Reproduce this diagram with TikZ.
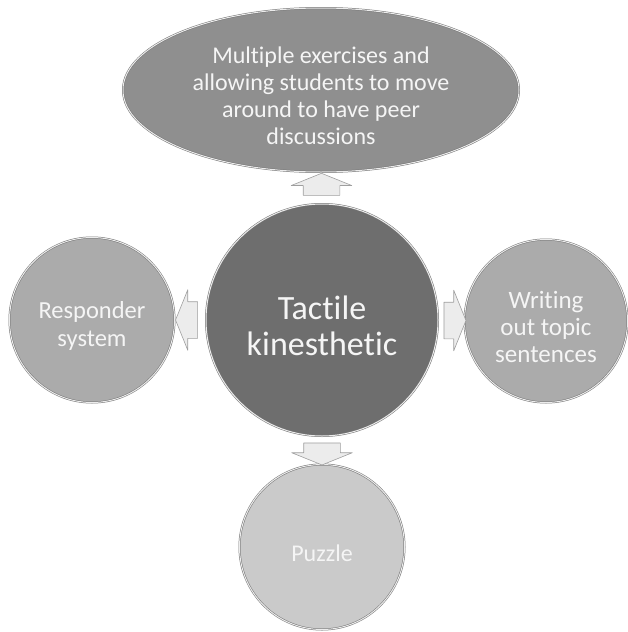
\documentclass[tikz,border=0pt]{standalone}
\usepackage{fontspec}
\setmainfont{Carlito}[Ligatures=NoCommon]
\usetikzlibrary{shapes.arrows,shapes.geometric,calc}
\definecolor{hubgray}{HTML}{6E6E6E}
\definecolor{topgray}{HTML}{8F8F8F}
\definecolor{sidegray}{HTML}{ABABAB}
\definecolor{lowgray}{HTML}{CACACA}
\tikzset{
  bubble/.style={circle, draw=black!55, line width=.5pt, double=white!85!gray,
    double distance=1pt, inner sep=0pt},
  caption/.style={align=center, text=white!92!gray, inner sep=0pt, yshift=-6pt},
  blockarrow/.style={single arrow, draw=gray!75, fill=gray!15, line width=.6pt,
    inner xsep=0pt, inner ysep=18pt, minimum height=22pt,
    single arrow head extend=12pt, single arrow tip angle=136}
}
\begin{document}
\begin{tikzpicture}[x=1pt, y=-1pt, line join=round]
	\useasboundingbox (0,0) rectangle (628,632);
	% hub and the four ideas
	\node[bubble, fill=hubgray, minimum size=232pt,
	  label={[name=hubtext, caption, font=\fontsize{34}{36}\selectfont]center:{Tactile\\kinesthetic}}] (hub) at (322,320) {};
	\node[bubble, ellipse, fill=topgray, minimum width=396pt, minimum height=164pt,
	  label={[name=peertext, caption, font=\fontsize{24}{27}\selectfont]center:{Multiple exercises and\\allowing students to move\\around to have peer\\discussions}}] (peer) at (321,90) {};
	\node[bubble, fill=sidegray, minimum size=165pt,
	  label={[name=resptext, caption, font=\fontsize{24.5}{28}\selectfont]center:{Responder\\system}}] (resp) at (92,320) {};
	\node[bubble, fill=sidegray, minimum size=163pt,
	  label={[name=topictext, caption, font=\fontsize{25}{27}\selectfont]center:{Writing\\out topic\\sentences}}] (topic) at (546,321) {};
	\node[bubble, fill=lowgray, minimum size=165pt,
	  label={[name=puzzletext, caption, font=\fontsize{24}{28}\selectfont]center:{Puzzle}}] (puzzle) at (322,547) {};
	% block arrows
	\node[blockarrow, rotate=90] (aup) at ($(hub.north)!.5!(peer.south)$) {};
	\node[blockarrow, rotate=180] (aleft) at ($(hub.west)!.5!(resp.east)$) {};
	\node[blockarrow] (aright) at ($(hub.east)!.5!(topic.west)$) {};
	\node[blockarrow, rotate=-90] (adown) at ($(hub.south)!.5!(puzzle.north)$) {};
\end{tikzpicture}
\end{document}
